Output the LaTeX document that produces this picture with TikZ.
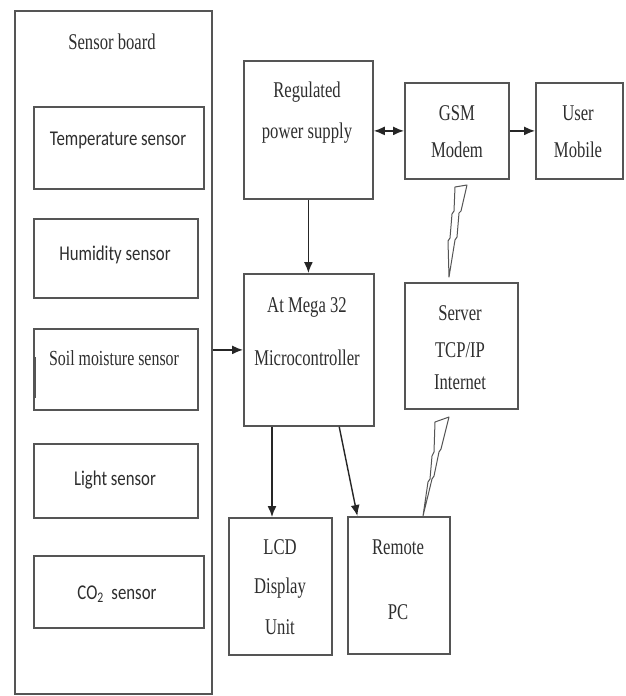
\documentclass[tikz,border=0pt]{standalone}
\usepackage{fontspec}
\setmainfont[FakeStretch=0.74]{Liberation Serif}
\newfontfamily\calfont[FakeStretch=0.8]{Carlito}
\usetikzlibrary{arrows.meta,calc}
\definecolor{linec}{HTML}{555555}
\definecolor{textc}{HTML}{2E2E2E}
\begin{document}
\begin{tikzpicture}[x=1pt,y=-1pt,
  box/.style={draw=linec, line width=1.8pt, inner sep=0pt, anchor=north west, fill=white},
  txt/.style={text=textc, inner sep=0pt, font=\fontsize{22.5}{22.5}\selectfont},
  stxt/.style={text=textc, inner sep=0pt, font=\calfont\fontsize{21}{21}\selectfont},
  arr/.style={-{Latex[length=11pt,width=9pt]}, line width=1.4pt, draw=black!85},
  darr/.style={{Latex[length=11pt,width=9pt]}-{Latex[length=11pt,width=9pt]}, line width=1.4pt, draw=black!85},
  bolt/.style={draw=linec, line width=1pt, fill=white, line join=round}]
\useasboundingbox (0,0) rectangle (625,696);
\fill[white] (0,0) rectangle (625,696);

% sensor board
\node[box, minimum width=197pt, minimum height=683pt] (board) at (14,10) {};
\node[txt] (boardt) at (112,42) {Sensor board};
\node[box, minimum width=170pt, minimum height=82pt] (temp) at (33,106) {};
\node[stxt] (tempt) at (118,140) {Temperature sensor};
\node[box, minimum width=164pt, minimum height=79pt] (hum) at (33,218) {};
\node[stxt] (humt) at (115,255) {Humidity sensor};
\node[box, minimum width=164pt, minimum height=81pt] (soil) at (33,328) {};
\node[txt, font=\fontsize{21.5}{21.5}\selectfont] (soilt) at (114,358) {Soil moisture sensor};
\draw[linec, line width=1.2pt] (35,357) -- (35,398);
\node[box, minimum width=164pt, minimum height=74pt] (light) at (33,443) {};
\node[stxt] (lightt) at (115,480) {Light sensor};
\node[box, minimum width=170pt, minimum height=72pt] (co2) at (33,555) {};
\node[stxt] (co2t) at (117,594) {CO\textsubscript{2}\ \ sensor};

% right blocks
\node[box, minimum width=129pt, minimum height=138pt] (ps) at (243,60) {};
\node[txt] (pst1) at (307,92) {Regulated};
\node[txt] (pst2) at (307,133) {power supply};
\node[box, minimum width=104pt, minimum height=96pt] (gsm) at (404,82) {};
\node[txt] (gsmt1) at (457,113) {GSM};
\node[txt] (gsmt2) at (457,150) {Modem};
\node[box, minimum width=87pt, minimum height=96pt] (user) at (535,82) {};
\node[txt] (usert1) at (578,113) {User};
\node[txt] (usert2) at (578,150) {Mobile};
\node[box, minimum width=130pt, minimum height=152pt] (mcu) at (243,273) {};
\node[txt] (mcut1) at (307,307) {At Mega 32};
\node[txt] (mcut2) at (307,358) {Microcontroller};
\node[box, minimum width=113pt, minimum height=126pt] (srv) at (404,282) {};
\node[txt] (srvt1) at (460,313) {Server};
\node[txt] (srvt2) at (460,350) {TCP/IP};
\node[txt] (srvt3) at (460,382) {Internet};
\node[box, minimum width=103pt, minimum height=137pt] (lcd) at (228,517) {};
\node[txt] (lcdt1) at (280,547) {LCD};
\node[txt] (lcdt2) at (280,588) {Display};
\node[txt] (lcdt3) at (280,627) {Unit};
\node[box, minimum width=102pt, minimum height=137pt] (pc) at (347,516) {};
\node[txt] (pct1) at (398,547) {Remote};
\node[txt] (pct2) at (398,612) {PC};

% connectors
\draw[arr] (ps.south) -- (ps.south |- mcu.north);
\draw[arr] (mcu.west -| board.east) -- (mcu.west);
\draw[darr] (gsm.west -| ps.east) -- (gsm.west);
\draw[arr] (gsm.east) -- (user.west);
\coordinate (m1) at ($(mcu.south west)!0.22!(mcu.south east)$);
\coordinate (m2) at ($(mcu.south west)!0.73!(mcu.south east)$);
\coordinate (p1) at ($(pc.north west)!0.10!(pc.north east)$);
\draw[arr] (m1) -- (m1 |- lcd.north);
\draw[arr] (m2) -- (p1);

% wireless links (lightning)
\draw[bolt] (455,187) -- (467,185) -- (461,211) -- (459,213) -- (457,237) -- (455,240)
  -- (449,277) -- (448,241) -- (450,238) -- (452,214) -- (454,211) -- cycle;
\draw[bolt] (435,422) -- (449,417) -- (441,449) -- (439,452) -- (434,476) -- (432,479)
  -- (423,516) -- (428,482) -- (430,479) -- (432,456) -- (434,452) -- cycle;
\end{tikzpicture}
\end{document}
